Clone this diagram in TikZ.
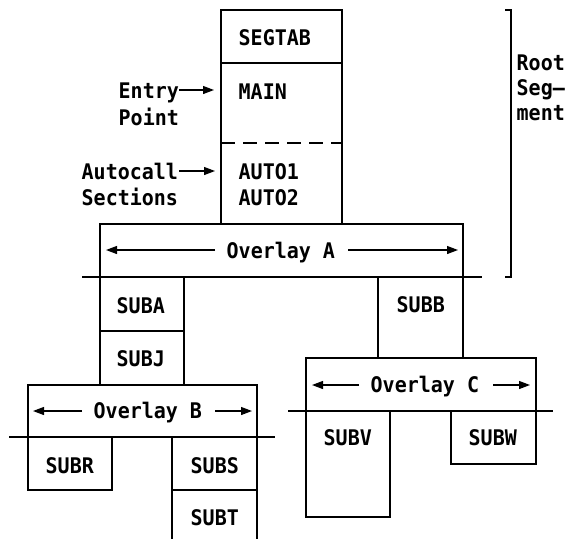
\documentclass[tikz,border=0pt]{standalone}
\usepackage{fontspec}
\setmonofont{DejaVu Sans Mono}[FakeStretch=0.93]
\usetikzlibrary{arrows.meta}
\begin{document}
\begin{tikzpicture}[x=1pt,y=-1pt,
  line/.style={line width=1.2pt},
  lbl/.style={font=\ttfamily\bfseries\fontsize{21.5}{25}\selectfont, inner sep=0pt, anchor=base west},
  arr/.style={line width=1.2pt, -{Triangle[length=11pt,width=8pt]}}]
\useasboundingbox (0,0) rectangle (567,539);
% root segment
\draw[line] (221,10) rectangle (342,224);
\draw[line] (221,63) -- (342,63);
\draw[line, dash pattern=on 14pt off 8pt] (221,143) -- (342,143);
% overlay A
\draw[line] (100,224) rectangle (463,277);
\draw[line] (82,277) -- (482,277);
% bracket
\draw[line] (505,10) -- (511,10) -- (511,277) -- (505,277);
% SUBA / SUBJ
\draw[line] (100,277) rectangle (184,385);
\draw[line] (100,331) -- (184,331);
% SUBB
\draw[line] (378,277) rectangle (463,358);
% overlay B
\draw[line] (28,385) rectangle (257,437);
\draw[line] (9,437) -- (275,437);
\draw[line] (28,437) rectangle (112,490);
\draw[line] (172,437) rectangle (257,490);
\draw[line] (172,490) -- (172,539);
\draw[line] (257,490) -- (257,539);
% overlay C
\draw[line] (306,358) rectangle (536,411);
\draw[line] (288,411) -- (553,411);
\draw[line] (306,411) rectangle (390,517);
\draw[line] (451,411) rectangle (536,464);
% texts
\node[lbl] (segtab) at (238.5,45) {SEGTAB};
\node[lbl] (main) at (238.5,99) {MAIN};
\node[lbl] (auto1) at (238.5,179) {AUTO1};
\node[lbl] (auto2) at (238.5,205) {AUTO2};
\node[lbl] (entry) at (118.5,98) {Entry};
\node[lbl] (point) at (118.5,125) {Point};
\node[lbl] (autocall) at (81.5,179) {Autocall};
\node[lbl] (sections) at (81.5,205) {Sections};
\node[lbl] (root) at (516.5,70) {Root};
\node[lbl] (seg) at (516.5,95) {Seg—};
\node[lbl] (ment) at (516.5,120) {ment};
\node[lbl] (ovA) at (226.5,258) {Overlay A};
\node[lbl] (suba) at (116.5,313) {SUBA};
\node[lbl] (subj) at (116.5,366) {SUBJ};
\node[lbl] (subb) at (396.5,312) {SUBB};
\node[lbl] (ovB) at (93.5,418) {Overlay B};
\node[lbl] (subr) at (45.5,473) {SUBR};
\node[lbl] (subs) at (190.5,473) {SUBS};
\node[lbl] (subt) at (190.5,525) {SUBT};
\node[lbl] (ovC) at (370.5,392) {Overlay C};
\node[lbl] (subv) at (323.5,445) {SUBV};
\node[lbl] (subw) at (468.5,445) {SUBW};
% arrows
\coordinate (entryTip) at (214,90);
\coordinate (autoTip) at (215,171);
\draw[arr] (179,90) -- (entryTip);
\draw[arr] (179,171) -- (autoTip);
\draw[arr] (215,250) -- (106,250);
\draw[arr] (348,250) -- (458,250);
\draw[arr] (82,411) -- (33,411);
\draw[arr] (215,411) -- (252,411);
\draw[arr] (359,385) -- (312,385);
\draw[arr] (493,385) -- (530,385);
\end{tikzpicture}
\end{document}
